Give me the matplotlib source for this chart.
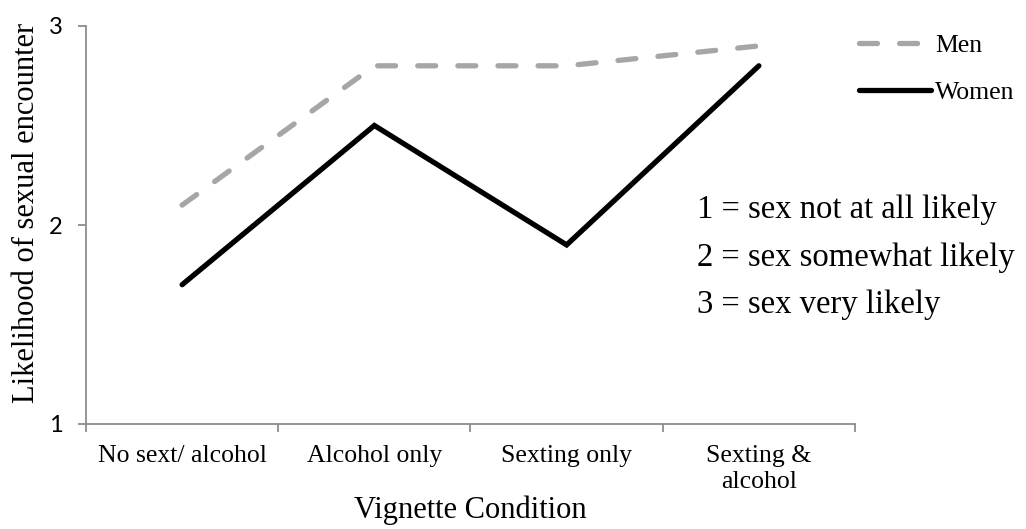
import matplotlib
matplotlib.use("Agg")
import matplotlib.pyplot as plt

# données
conditions = ["No sext/ alcohol", "Alcohol only", "Sexting only", "Sexting &\nalcohol"]
men = [2.1, 2.8, 2.8, 2.9]
women = [1.7, 2.5, 1.9, 2.8]
y_ticks = [1, 2, 3]
scale_notes = ["1 = sex not at all likely",
               "2 = sex somewhat likely",
               "3 = sex very likely"]

W, H = 1026, 529
fig = plt.figure(figsize=(W / 100, H / 100), dpi=100)
ax = fig.add_axes([86 / W, 1 - 424 / H, (855 - 86) / W, (424 - 26) / H])

serif = "Liberation Serif"
axis_gray = "#8C8C8C"

x = list(range(len(conditions)))
ax.plot(x, men, color="#A6A6A6", lw=3.8, dashes=(3.4, 4.2),
        dash_capstyle="round", solid_capstyle="round", label="Men")
ax.plot(x, women, color="black", lw=3.8, solid_capstyle="round",
        solid_joinstyle="miter", label="Women")

ax.set_xlim(-0.5, len(conditions) - 0.5)
ax.set_ylim(1, 3)

# axes
for side in ["top", "right"]:
    ax.spines[side].set_visible(False)
for side in ["left", "bottom"]:
    ax.spines[side].set_color(axis_gray)
    ax.spines[side].set_linewidth(1.3)

ax.set_yticks(y_ticks)
ax.set_yticklabels([str(v) for v in y_ticks], fontfamily="Lato", fontsize=17)
ax.tick_params(axis="y", length=5.8, width=1.3, color=axis_gray, pad=11)

# graduations aux limites des catégories, étiquettes au centre
ax.set_xticks([i - 0.5 for i in range(len(conditions) + 1)])
ax.set_xticklabels([])
ax.tick_params(axis="x", which="major", length=5.5, width=1.3, color=axis_gray)
ax.set_xticks(x, minor=True)
ax.set_xticklabels(conditions, minor=True, fontfamily=serif, fontsize=18.5,
                   linespacing=1.25)
ax.tick_params(axis="x", which="minor", length=0, pad=15)

ax.set_ylabel("Likelihood of sexual encounter", fontfamily=serif, fontsize=22)
ax.yaxis.set_label_coords(-0.077, 0.53)
ax.yaxis.label.set_va("center")
fig.text(470 / W, 1 - 510 / H, "Vignette Condition", fontfamily=serif,
         fontsize=22, ha="center", va="center")

# légende
leg = fig.legend(loc="upper left", bbox_to_anchor=(859 / W, 1 - 34 / H),
                 frameon=False, prop={"family": serif, "size": 18.5},
                 handlelength=2.8, handletextpad=0.15, labelspacing=0.95,
                 borderpad=0, borderaxespad=0)

# échelle de réponse
for i, note in enumerate(scale_notes):
    fig.text(697 / W, 1 - (210 + 47.5 * i) / H, note, fontfamily=serif,
             fontsize=23.5, va="center", ha="left")

fig.savefig("out.png", dpi=100)
